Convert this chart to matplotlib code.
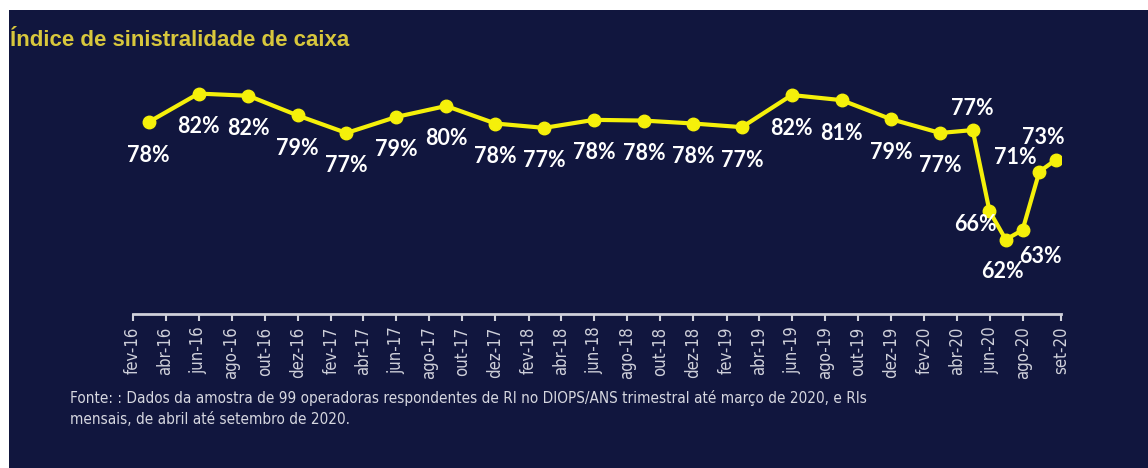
import matplotlib
matplotlib.use("Agg")
import matplotlib.pyplot as plt
from matplotlib.patches import Rectangle
import pandas as pd

# quarterly points (mar-16 .. mar-20) then monthly points (abr-20 .. set-20)
periods = list(pd.date_range("2016-03-01", "2020-03-01", freq="3MS")) + \
          list(pd.date_range("2020-04-30", periods=6, freq="ME"))
values = [78.2, 82.1, 81.8, 79.1, 76.7, 78.9, 80.4, 78.0, 77.4, 78.5, 78.4, 78.0,
          77.5, 81.9, 81.2, 78.6, 76.7, 77.1, 66.0, 62.1, 63.4, 71.4, 73.0]
labels = ["78%", "82%", "82%", "79%", "77%", "79%", "80%", "78%", "77%", "78%", "78%", "78%",
          "77%", "82%", "81%", "79%", "77%", "77%", "66%", "62%", "63%", "71%", "73%"]

tick_dates = list(pd.date_range("2016-02-01", "2020-08-01", freq="2MS"))
month_pt = {1: "jan", 2: "fev", 3: "mar", 4: "abr", 5: "mai", 6: "jun",
            7: "jul", 8: "ago", 9: "set", 10: "out", 11: "nov", 12: "dez"}
tick_labels = [f"{month_pt[d.month]}-{d.year % 100}" for d in tick_dates] + ["set-20"]
x_end = pd.Timestamp("2020-10-10")

title = "Índice de sinistralidade de caixa"
source = ("Fonte: : Dados da amostra de 99 operadoras respondentes de RI no DIOPS/ANS trimestral "
          "até março de 2020, e RIs\nmensais, de abril até setembro de 2020.")

navy = "#11163e"
narrow = ["Liberation Sans Narrow", "DejaVu Sans"]
W, H = 1148, 468
fig = plt.figure(figsize=(W / 100, H / 100), dpi=100, facecolor="white")
fig.patches.append(Rectangle((9 / W, 0), 1 - 9 / W, 1 - 10 / H, transform=fig.transFigure,
                             facecolor=navy, edgecolor="none", zorder=-10))

left, right, bottom, top = 133, 1061, 314, 60
ax = fig.add_axes([left / W, 1 - bottom / H, (right - left) / W, (bottom - top) / H])
ax.set_facecolor("none")

ax.plot(periods, values, color="#f5f00a", lw=3, marker="o", ms=9, zorder=3,
        solid_joinstyle="round")

# label offsets in pixels; default is below the point
offsets = {17: (0, 22), 18: (-14, -13), 19: (-3, -32), 20: (18, -26), 21: (-24, 14), 22: (-12, 22)}
for i, (d, v, lab) in enumerate(zip(periods, values, labels)):
    dx, dy = offsets.get(i, (0, -33))
    ax.annotate(lab, (d, v), xytext=(dx, dy), textcoords="offset pixels",
                ha="center", va="center", color="white", fontsize=15.5,
                fontweight="bold", family=["Lato", "DejaVu Sans"], zorder=4)

ax.set_ylim(51.9, 86.7)
ax.set_xlim(pd.Timestamp("2016-02-01"), x_end)
ax.set_xticks(tick_dates + [x_end])
ax.set_xticklabels(tick_labels, rotation=90)
ax.tick_params(axis="x", colors="#cfd0da", length=5, width=1.5, pad=4,
               labelsize=12, labelcolor="#cfd0da")
for lbl in ax.get_xticklabels():
    lbl.set_family(narrow)
    lbl.set_stretch("condensed")
ax.set_yticks([])
for s in ["top", "right", "left"]:
    ax.spines[s].set_visible(False)
ax.spines["bottom"].set_color("#cfd0da")
ax.spines["bottom"].set_linewidth(2)

fig.text(10 / W, 1 - 40 / H, title, color="#d8c73c", fontsize=16, fontweight="bold",
         family=["Liberation Sans", "DejaVu Sans"], va="center", ha="left")
fig.text(70 / W, 1 - 390 / H, source, color="#d6d7e0", fontsize=11, linespacing=1.5,
         va="top", ha="left", family=narrow, stretch="condensed")

fig.savefig("out.png", dpi=100, facecolor=fig.get_facecolor())
